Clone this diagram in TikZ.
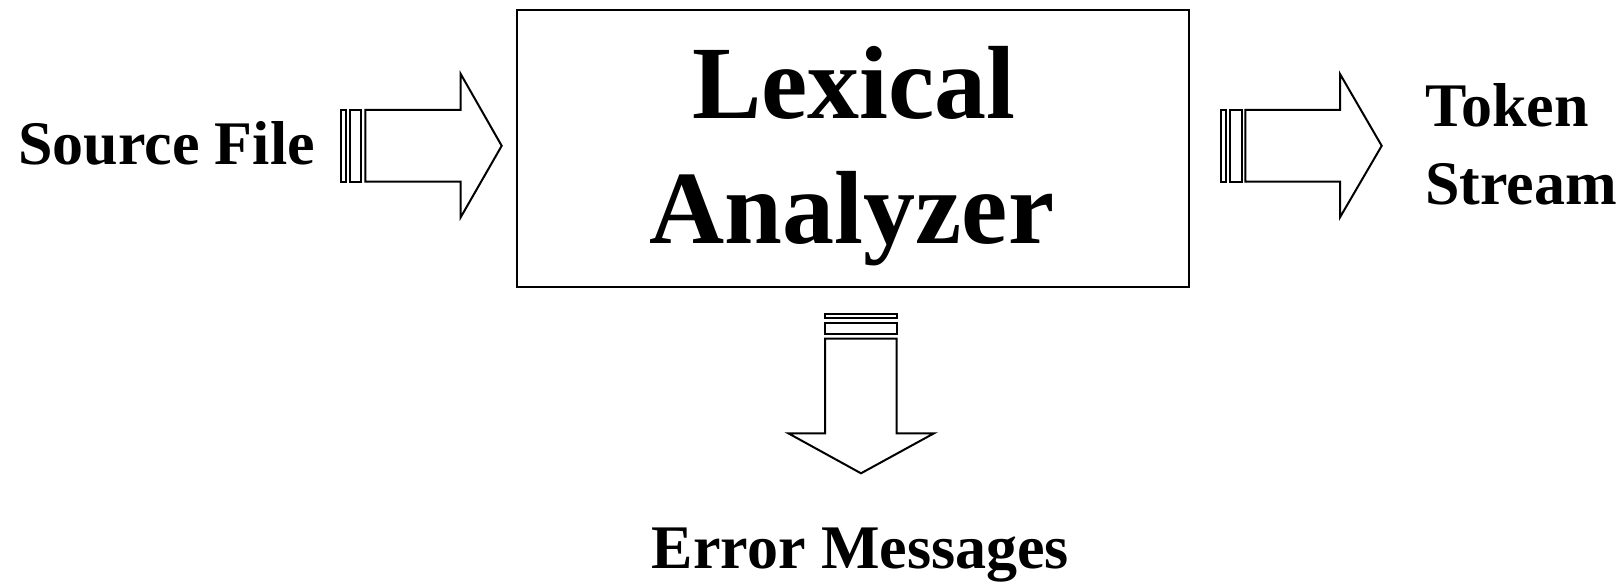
\documentclass[tikz,border=0pt]{standalone}
\usepackage{fontspec}
\setmainfont{Liberation Serif}
\begin{document}
\begin{tikzpicture}[x=0.5pt,y=-0.5pt,
    label/.style={font=\bfseries\fontsize{31}{36}\selectfont, inner sep=0pt},
    biglabel/.style={font=\bfseries\fontsize{52}{60}\selectfont, inner sep=0pt},
    stage/.style={draw, line width=1pt, inner sep=0pt},
    blockarrow/.style={draw, line width=1pt, line join=miter, fill=white},
    barpart/.style={draw, line width=1pt, fill=white}]
  \useasboundingbox (0,0) rectangle (1623,587);

  % central stage
  \node[stage, minimum width=336pt, minimum height=138.5pt] (lex) at (852.5,148.5) {};
  \node[biglabel, anchor=base] (lexa) at (854,118.5) {Lexical};
  \node[biglabel, anchor=base] (lexb) at (852,243.5) {Analyzer};

  % side and bottom labels
  \node[label, anchor=base] (src) at (166.5,165) {Source File};
  \node[label, anchor=base west] (tok) at (1425,127) {Token};
  \node[label, anchor=base west] (str) at (1425,205) {Stream};
  \node[label, anchor=base] (err) at (860.5,568) {Error Messages};

  % input arrow
  \draw[barpart] (340.7,110) rectangle (346,181.7);
  \draw[barpart] (350,110) rectangle (361.3,181.7);
  \draw[blockarrow] (365.3,110) -- (460.7,110) -- (460.7,74) -- (501.7,145.8)
    -- (460.7,217.3) -- (460.7,181.7) -- (365.3,181.7) -- cycle;

  % output arrow
  \draw[barpart] (1220.7,110) rectangle (1226,181.7);
  \draw[barpart] (1230,110) rectangle (1241.7,181.7);
  \draw[blockarrow] (1245.3,110) -- (1340,110) -- (1340,74) -- (1381.7,145.8)
    -- (1340,217.3) -- (1340,181.7) -- (1245.3,181.7) -- cycle;

  % error arrow
  \draw[barpart] (825,314) rectangle (896.7,318.3);
  \draw[barpart] (825,323.3) rectangle (896.7,334);
  \draw[blockarrow] (825,338.7) -- (896.7,338.7) -- (896.7,433.3) -- (934,433.3)
    -- (861,473.3) -- (788.3,433.3) -- (825,433.3) -- cycle;
\end{tikzpicture}
\end{document}
